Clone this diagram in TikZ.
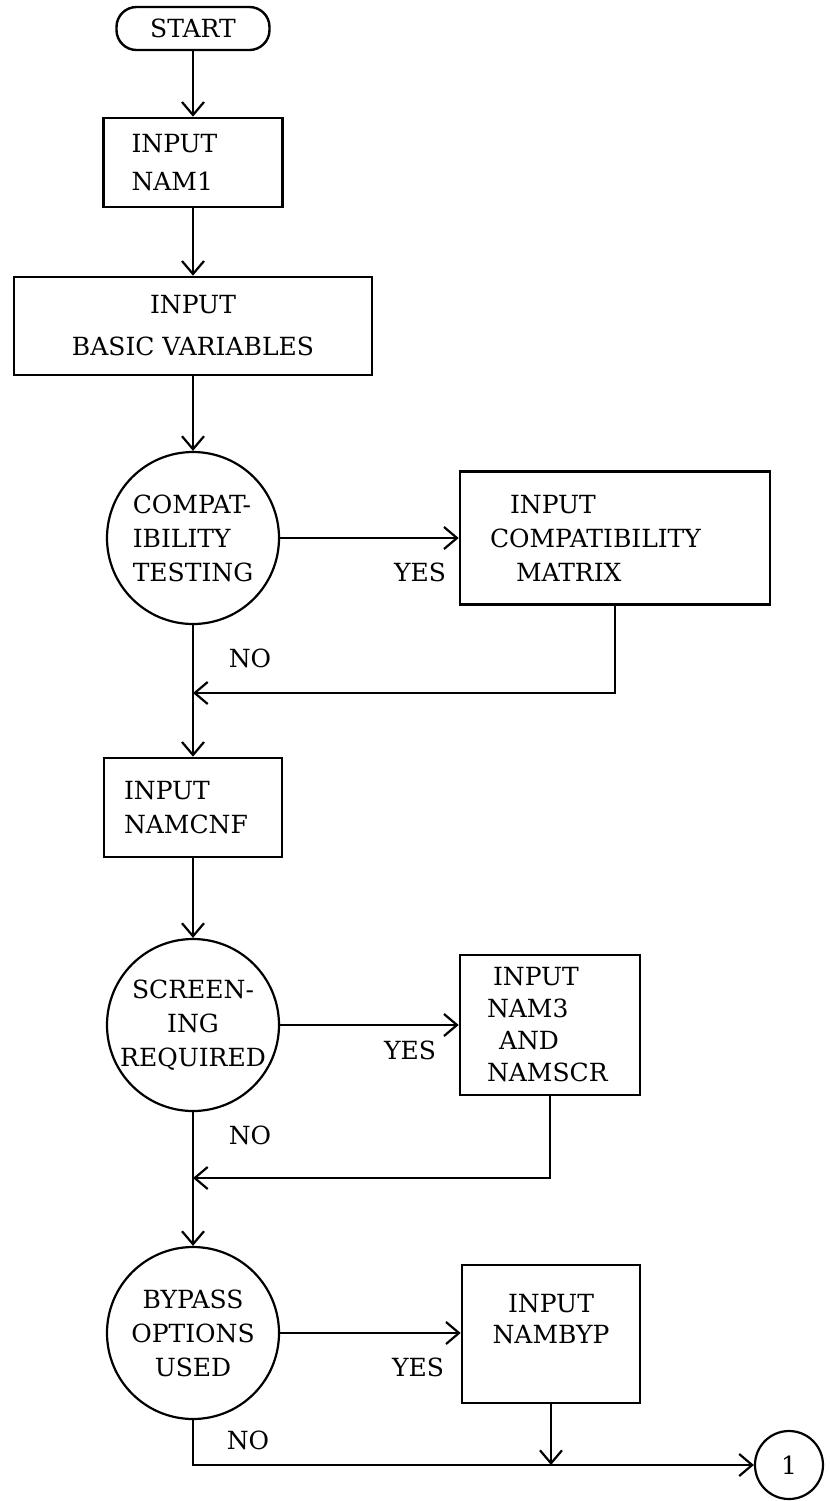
\documentclass[tikz,border=0pt]{standalone}
\usepackage{fontspec}
\setmainfont{DejaVu Serif}
\usepackage{tikz}
\usetikzlibrary{arrows.meta}

\begin{document}
\begin{tikzpicture}[
    x=0.5pt, y=-0.5pt,
    every node/.style={font=\fontsize{12.5}{17}\selectfont},
    terminal/.style={draw, line width=1.2pt, rounded corners=10pt, minimum width=76.5pt,
                     minimum height=21.5pt, inner sep=0pt},
    inbox/.style={draw, line width=1.3pt, inner ysep=0pt},
    decision/.style={draw, circle, line width=1.1pt, minimum size=86pt, inner sep=0pt},
    offpage/.style={draw, circle, line width=1.1pt, minimum size=34pt, inner sep=0pt},
    flow/.style={line width=1.1pt, -{Straight Barb[length=6.5pt, width=11pt, line width=1.1pt]}},
    answer/.style={inner sep=0pt}
]
    \useasboundingbox (0,0) rectangle (830,1501);

    % Start
    \node[terminal] (start) at (193,28.5) {START};

    % Input NAM1
    \node[inbox, minimum width=89.5pt, minimum height=44.5pt, text width=61.5pt,
          inner xsep=14pt, align=left] (nam1) at (193,162.5) {INPUT\\[2pt]NAM1};

    % Basic variables
    \node[inbox, minimum width=179pt, minimum height=49pt, align=center] (basic) at (193,326)
        {INPUT\\[4pt]BASIC VARIABLES};

    % Compatibility testing
    \node[decision, align=left] (testc) at (193,538) {COMPAT-\\IBILITY\\TESTING};
    \node[inbox, minimum width=155pt, minimum height=66.5pt, text width=125pt,
          inner xsep=15pt, align=left] (cmbox) at (615,538)
        {\hspace*{10pt}INPUT\\COMPATIBILITY\\\hspace*{13pt}MATRIX};

    % Input NAMCNF
    \node[inbox, minimum width=89pt, minimum height=49.5pt, text width=69pt,
          inner xsep=10pt, align=left] (cnf) at (193,807.5) {INPUT\\NAMCNF};

    % Screening
    \node[decision, align=center] (screen) at (193,1025)
        {SCREEN-\\ING\\\makebox[60pt][c]{REQUIRED}};
    \node[inbox, minimum width=90pt, minimum height=70pt, text width=63pt,
          inner xsep=13.5pt, align=left, font=\fontsize{12.5}{16}\selectfont] (nam3) at (550,1025)
        {\hspace*{3pt}INPUT\\NAM3\\\hspace*{6pt}AND\\NAMSCR};

    % Bypass options
    \node[decision, align=center] (bypass) at (193,1333) {BYPASS\\OPTIONS\\USED};
    \node[inbox, minimum width=89pt, minimum height=69pt, align=center,
          font=\fontsize{12.5}{15.5}\selectfont] (nambyp) at (551,1334)
        {INPUT\\NAMBYP\\\mbox{}};

    % Off-page connector
    \node[offpage] (one) at (789,1465) {1};

    % Answers
    \node[answer] (yes1) at (420,572) {YES};
    \node[answer] (no1) at (250,658) {NO};
    \node[answer] (yes2) at (410,1050) {YES};
    \node[answer] (no2) at (250,1135) {NO};
    \node[answer] (yes3) at (418,1367) {YES};
    \node[answer] (no3) at (248,1440) {NO};

    \coordinate (join1) at (193,693);
    \coordinate (join2) at (193,1178);

    % Flow
    \draw[flow] (start) -- (nam1);
    \draw[flow] (nam1) -- (basic);
    \draw[flow] (basic) -- (testc);
    \draw[flow] (testc) -- (testc -| cmbox.west);
    \draw[flow] (cmbox.south) |- (join1);
    \draw[flow] (testc) -- (cnf);
    \draw[flow] (cnf) -- (screen);
    \draw[flow] (screen) -- (screen -| nam3.west);
    \draw[flow] (nam3.south) |- (join2);
    \draw[flow] (screen) -- (bypass);
    \draw[flow] (bypass) -- (bypass -| nambyp.west);
    \draw[flow] (bypass) |- (one);
    \draw[flow] (nambyp) -- (nambyp |- one);
\end{tikzpicture}
\end{document}
